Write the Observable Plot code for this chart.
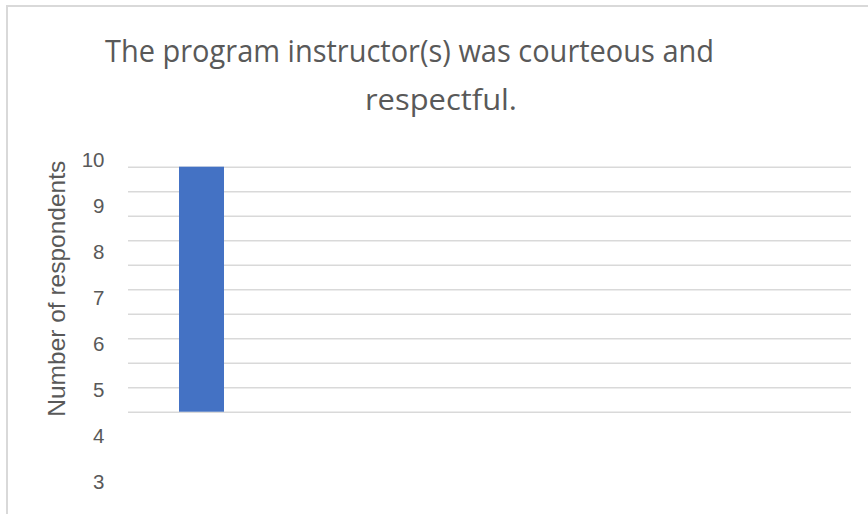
<!DOCTYPE html>
<html>
<head>
<meta charset="utf-8">
<script src="https://cdn.jsdelivr.net/npm/d3@7"></script>
<script src="https://cdn.jsdelivr.net/npm/@observablehq/plot@0.6"></script>
<style>
  html, body { margin: 0; padding: 0; background: #fff; }
  #wrap { position: relative; width: 868px; height: 514px; overflow: hidden; background: #fff; }
  #wrap svg { position: absolute; left: 0; top: 0; }
  .frame { position: absolute; left: 6px; top: 5px; width: 900px; height: 600px;
           border-top: 2px solid #d9d9d9; border-left: 2px solid #d9d9d9; box-sizing: border-box; }
</style>
</head>
<body>
<div id="wrap"><div class="frame"></div></div>
<script>
// ---- data ----
const titleLines = ["The program instructor(s) was courteous and", "respectful."];
const yAxisTitle = "Number of respondents";
const categories = ["Strongly agree", "Agree", "Neutral", "Disagree", "Strongly disagree"];
const respondents = [10, 0, 0, 0, 0];
const gridValues = [0, 1, 2, 3, 4, 5, 6, 7, 8, 9, 10];
const tickLabels = [10, 9, 8, 7, 6, 5, 4, 3];

const wrap = document.getElementById("wrap");
const data = categories.map((c, i) => ({category: c, value: respondents[i]}));

// main chart: gridlines + bars
const main = Plot.plot({
  width: 868,
  height: 514,
  marginLeft: 128,
  marginRight: 17,
  marginTop: 166.7,
  marginBottom: 102.3,
  style: {background: "transparent"},
  x: {domain: categories, axis: null, paddingInner: 0.689, paddingOuter: 0.3445},
  y: {domain: [0, 10], axis: null},
  marks: [
    Plot.gridY(gridValues, {stroke: "#d9d9d9", strokeOpacity: 1, strokeWidth: 1.6}),
    Plot.barY(data.filter(d => d.value > 0), {x: "category", y: "value", fill: "#4472c4"})
  ]
});
wrap.appendChild(main);

// tick label axis (as in the reference, offset from the gridlines)
const labels = Plot.plot({
  width: 868,
  height: 514,
  marginLeft: 104,
  marginRight: 0,
  marginTop: 160,
  marginBottom: 32,
  style: {background: "transparent", fontFamily: "'Liberation Sans', Arial, sans-serif", fontSize: "20.5px"},
  y: {domain: [3, 10], axis: null},
  marks: [
    Plot.axisY(tickLabels, {tickSize: 0, tickPadding: 0, fontSize: 20.5, fill: "#595959",
      tickFormat: d => String(d)})
  ]
});
wrap.appendChild(labels);

// text overlay: title + axis title
const svg = d3.create("svg").attr("width", 868).attr("height", 514)
  .style("background", "transparent");
svg.append("text")
  .attr("x", 105).attr("y", 62)
  .attr("textLength", 609).attr("lengthAdjust", "spacingAndGlyphs")
  .attr("font-family", "'Open Sans', sans-serif").attr("font-size", 31)
  .attr("fill", "#595959").text(titleLines[0]);
svg.append("text")
  .attr("x", 365).attr("y", 110)
  .attr("textLength", 152).attr("lengthAdjust", "spacingAndGlyphs")
  .attr("font-family", "'Open Sans', sans-serif").attr("font-size", 30)
  .attr("fill", "#595959").text(titleLines[1]);
svg.append("text")
  .attr("transform", "translate(64.5,288.7) rotate(-90)")
  .attr("text-anchor", "middle")
  .attr("textLength", 256).attr("lengthAdjust", "spacingAndGlyphs")
  .attr("font-family", "'Liberation Sans', Arial, sans-serif").attr("font-size", 24)
  .attr("fill", "#595959").text(yAxisTitle);
wrap.appendChild(svg.node());
</script>
</body>
</html>
